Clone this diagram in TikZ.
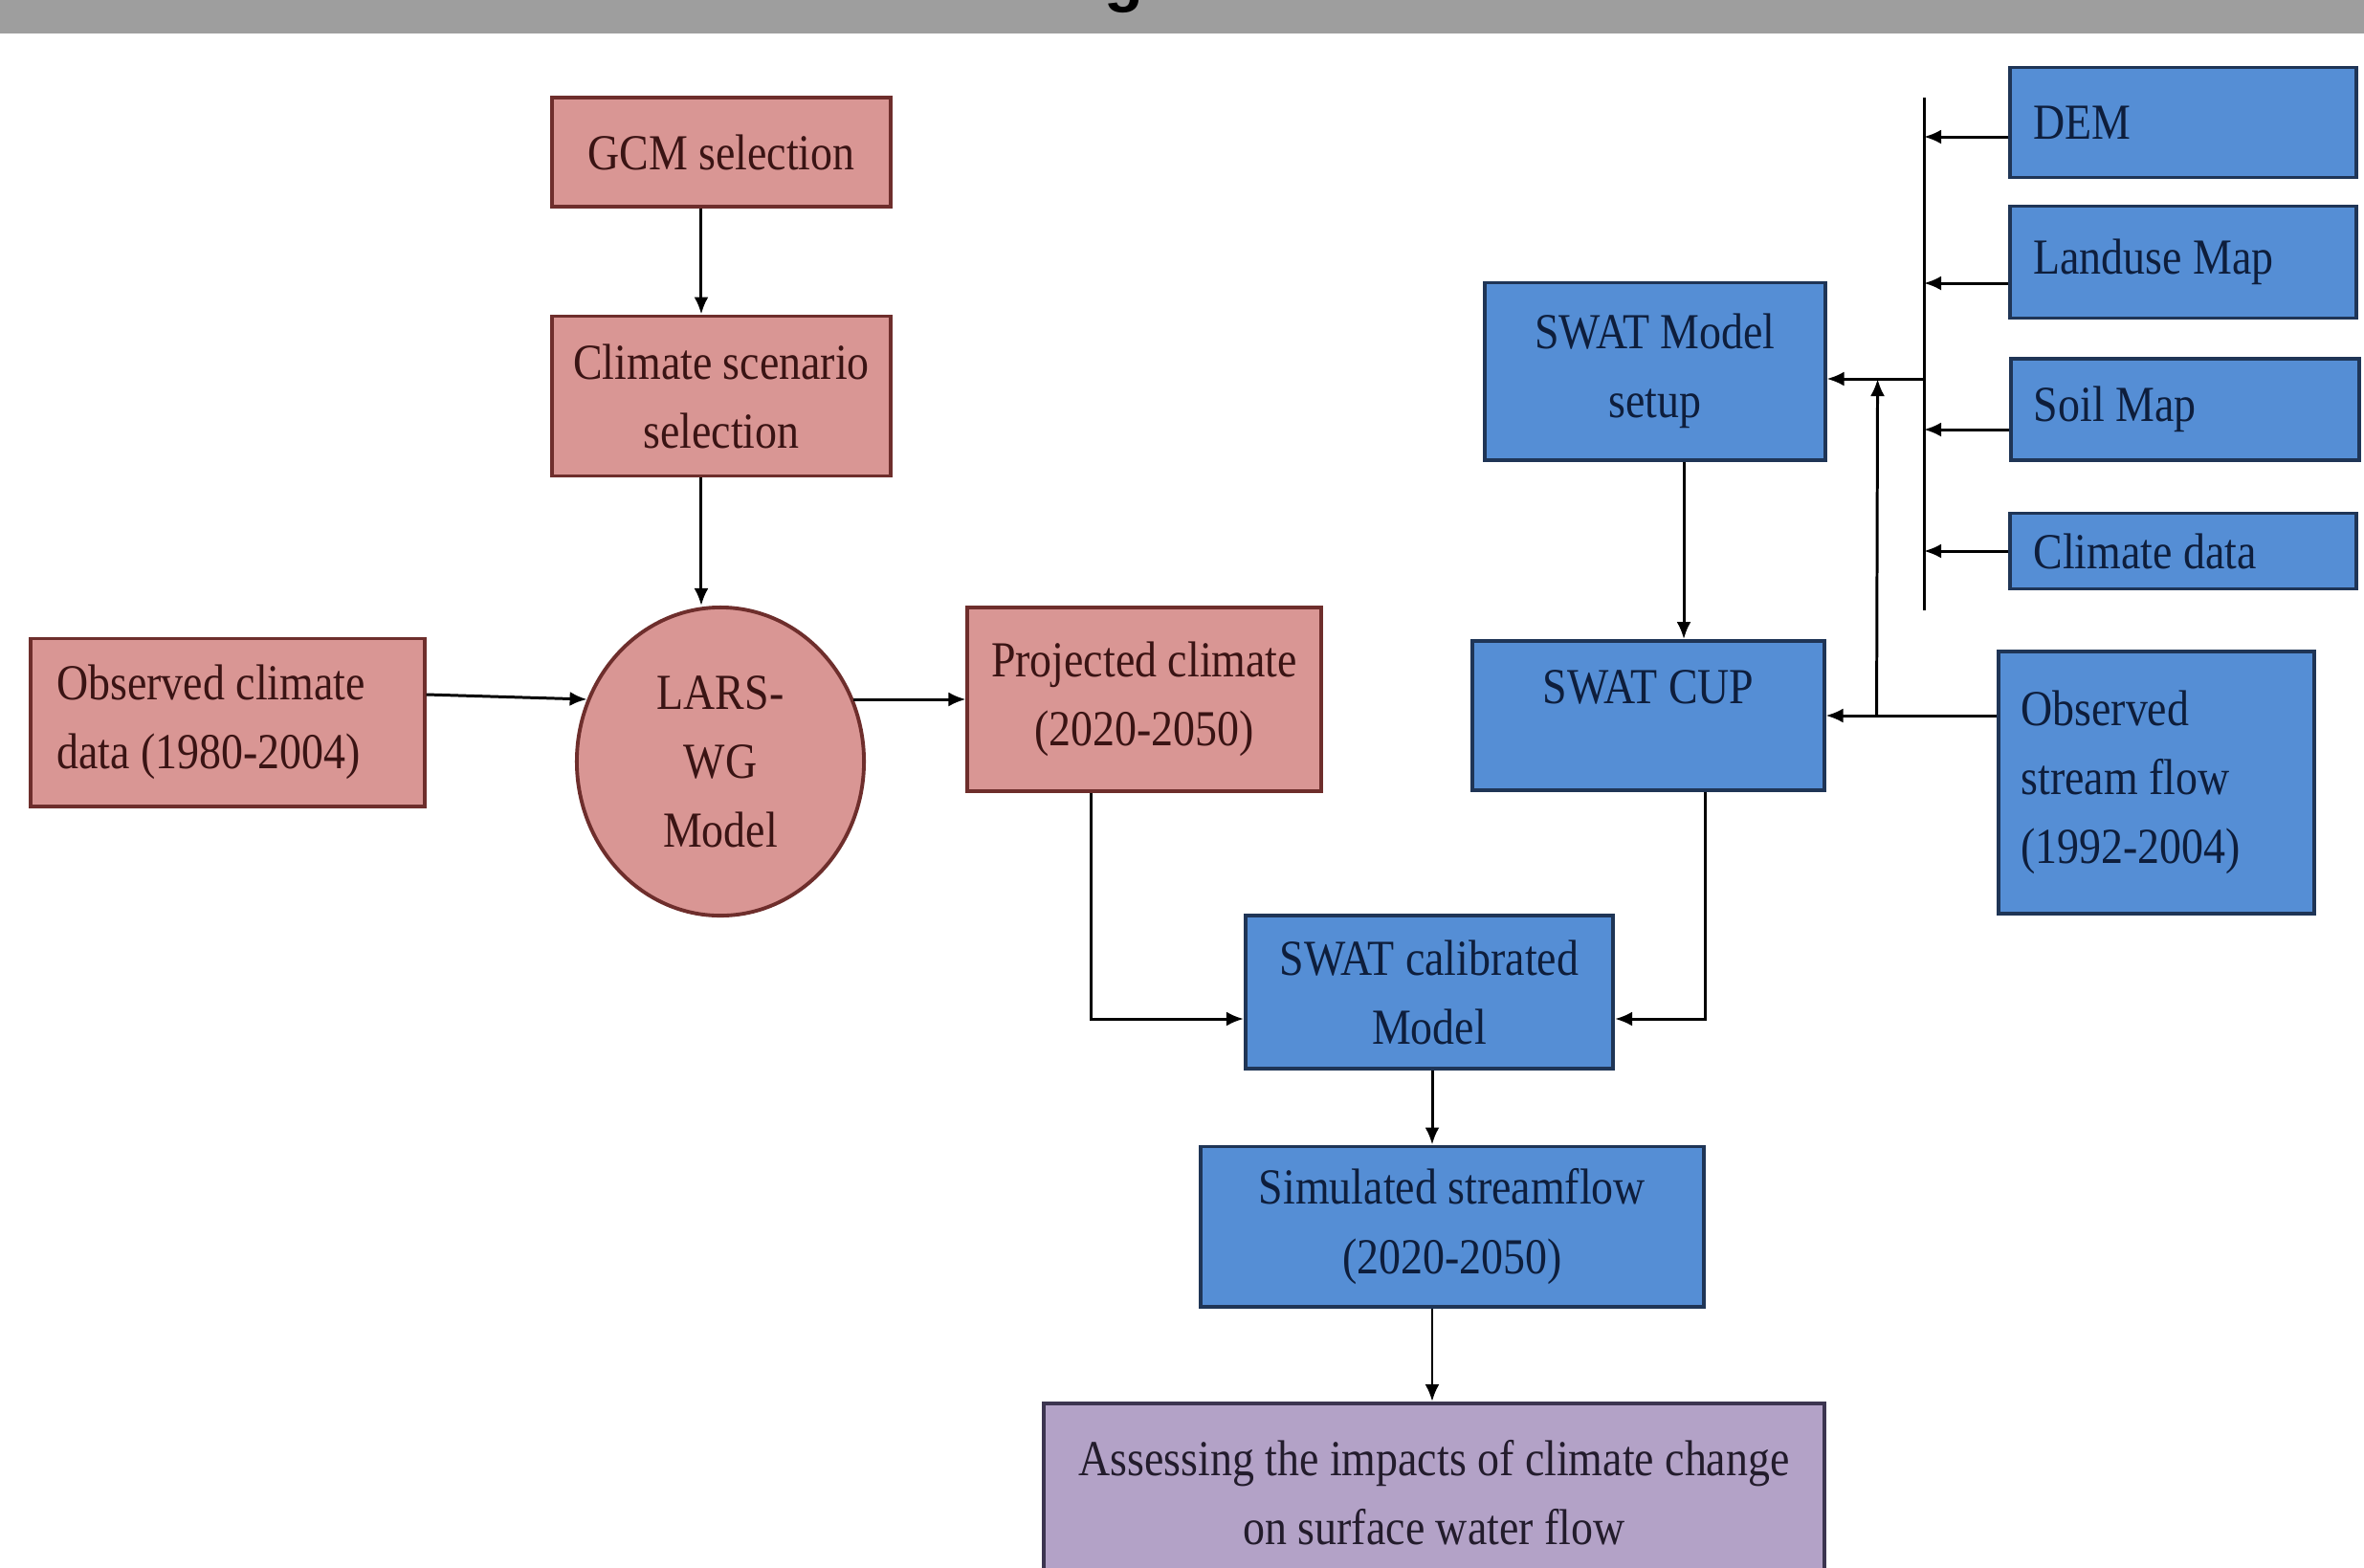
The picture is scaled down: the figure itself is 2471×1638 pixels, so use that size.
\documentclass[tikz,border=0pt]{standalone}
\usepackage{fontspec}
\setmainfont{Liberation Serif}[FakeStretch=0.87]
\newfontfamily\titlefont{Liberation Sans}
\usepackage{xcolor}
\usepackage{tikz}
\usetikzlibrary{shapes.geometric,arrows.meta}

\definecolor{barfill}{HTML}{9E9E9E}
\definecolor{pinkfill}{HTML}{D99694}
\definecolor{pinkline}{HTML}{6E2E2C}
\definecolor{pinktext}{HTML}{3A1414}
\definecolor{bluefill}{HTML}{558ED5}
\definecolor{blueline}{HTML}{1F3556}
\definecolor{bluetext}{HTML}{0E1E3C}
\definecolor{lilacfill}{HTML}{B3A2C7}
\definecolor{lilacline}{HTML}{3C3550}
\definecolor{lilactext}{HTML}{231C2C}

\begin{document}
\begin{tikzpicture}[x=0.01cm, y=-0.01cm,
    box/.style={rectangle, line width=1.1pt, inner sep=0pt, align=center,
        font=\fontsize{15}{20.5}\selectfont},
    redbox/.style={box, fill=pinkfill, draw=pinkline, text=pinktext},
    bluebox/.style={box, fill=bluefill, draw=blueline, text=bluetext},
    lilacbox/.style={box, fill=lilacfill, draw=lilacline, text=lilactext},
    arr/.style={-{Latex[length=1.8mm, width=1.5mm]}, line width=0.85pt}]
    \clip (0,0) rectangle (2471,1638);
    \fill[white] (0,0) rectangle (2471,1638);

    % title bar, cut off at the top
    \fill[barfill] (0,0) rectangle (2471,35);
    \node[anchor=base, inner sep=0pt, font=\titlefont\bfseries\fontsize{19}{19}\selectfont] (titleg) at (1175,-1) {g};

    % climate side
    \node[redbox, minimum width=3.54cm, minimum height=1.14cm] (gcm) at (754,159) {GCM selection};
    \node[redbox, minimum width=3.54cm, minimum height=1.67cm] (scen) at (754,414) {Climate scenario\\selection};
    \node[redbox, ellipse, minimum width=3cm, minimum height=3.22cm] (lars) at (753,796) {LARS-\\WG\\Model};
    \node[redbox, minimum width=4.11cm, minimum height=1.75cm, text width=3.57cm, align=flush left] (obs) at (238,755) {Observed climate\\data (1980-2004)};
    \node[redbox, minimum width=3.69cm, minimum height=1.92cm] (proj) at (1196,731) {Projected climate\\(2020-2050)};

    % hydrology side
    \node[bluebox, minimum width=3.55cm, minimum height=1.85cm] (setup) at (1730,388) {SWAT Model\\setup};
    \node[bluebox, minimum width=3.61cm, minimum height=1.15cm, text width=3.13cm, align=flush left] (dem) at (2282,128) {DEM};
    \node[bluebox, minimum width=3.61cm, minimum height=1.17cm, text width=3.13cm, align=flush left] (land) at (2282,274) {Landuse Map};
    \node[bluebox, minimum width=3.64cm, minimum height=1.06cm, text width=3.16cm, align=flush left] (soil) at (2284,428) {Soil Map};
    \node[bluebox, minimum width=3.61cm, minimum height=0.79cm, text width=3.13cm, align=flush left] (clim) at (2282,576) {Climate data};
    \node[bluebox, minimum width=3.67cm, minimum height=1.56cm, text depth=0.6cm] (cup) at (1723,748) {SWAT CUP};
    \node[bluebox, minimum width=3.29cm, minimum height=2.74cm, text width=2.83cm, align=flush left] (strobs) at (2254,818) {Observed\\stream flow\\(1992-2004)};
    \node[bluebox, minimum width=3.84cm, minimum height=1.60cm] (calib) at (1494,1037) {SWAT calibrated\\Model};
    \node[bluebox, minimum width=5.25cm, minimum height=1.67cm] (sim) at (1518,1282) {Simulated streamflow\\(2020-2050)};
    \node[lilacbox, minimum width=8.16cm, minimum height=1.86cm] (assess) at (1499,1560) {Assessing the impacts of climate change\\on surface water flow};

    % connectors
    \draw[arr] ([xshift=-0.21cm]gcm.south) -- ([xshift=-0.21cm]scen.north);
    \draw[arr] ([xshift=-0.21cm]scen.south) -- ([xshift=-0.21cm]scen.south |- lars.north);
    \draw[arr] ([yshift=0.29cm]obs.east) -- (lars.155);
    \draw[arr] (lars.25) -- (lars.25 -| proj.west);
    \draw[arr] ([xshift=-0.55cm]proj.south) |- ([yshift=-0.28cm]calib.west);

    \coordinate (bustop) at (2011,102);
    \coordinate (busbot) at (2011,638);
    \draw[line width=0.85pt] (bustop) -- (busbot);
    \foreach \n/\s in {dem/-0.15, land/-0.22, soil/-0.21, clim/0}
        \draw[arr] ([yshift=\s cm]\n.west) -- ([yshift=\s cm]\n.west -| bustop);
    \draw[arr] ([yshift=-0.08cm]setup.east -| bustop) -- ([yshift=-0.08cm]setup.east);
    \draw[arr] (strobs.west |- cup.east) -- (cup.east);
    \draw[arr] ([xshift=0.53cm]cup.east) -- ([xshift=0.53cm, yshift=-0.08cm]setup.east);
    \draw[arr] ([xshift=0.3cm]setup.south) -- ([xshift=0.3cm]setup.south |- cup.north);
    \draw[arr] ([xshift=0.59cm]cup.south) |- ([yshift=-0.28cm]calib.east);
    \draw[arr] ([xshift=0.03cm]calib.south) -- ([xshift=0.03cm]calib.south |- sim.north);
    \draw[arr] ([xshift=-0.21cm]sim.south) -- ([xshift=-0.21cm]sim.south |- assess.north);
\end{tikzpicture}
\end{document}
